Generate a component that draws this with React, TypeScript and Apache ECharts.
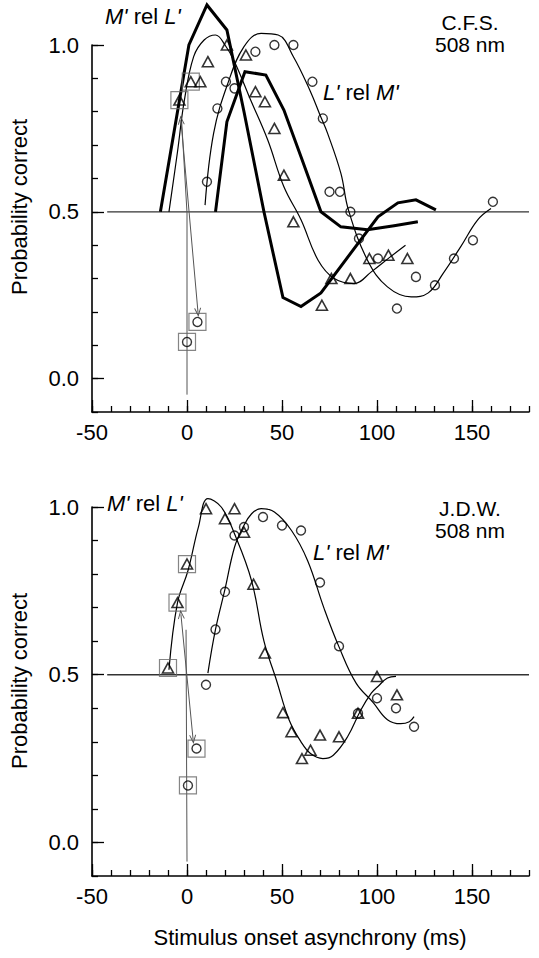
import React, { useEffect, useRef } from 'react';
import * as echarts from 'echarts';

const FONT = '"Liberation Sans", Arial, Helvetica, sans-serif';

// ---------- tick values ----------
const xMajorTicks = [-50, 0, 50, 100, 150];
const yMajorTicks = [0, 0.5, 1.0];

// ---------- top panel (C.F.S.) ----------
const topTriX = [-4, 2, 7, 11, 21, 31, 36, 41, 46, 51, 56, 71, 76, 86, 96, 106, 116];
const topTriY = [0.835, 0.89, 0.89, 0.95, 1.0, 0.97, 0.86, 0.83, 0.75, 0.61, 0.47, 0.22, 0.30, 0.30, 0.36, 0.37, 0.36];
const topCircX = [0, 5.5, 10.5, 16, 20.5, 25, 36, 46, 56, 66, 71.5, 75, 80.5, 86, 90.5, 100.5, 110.5, 120.5, 130.5, 140.5, 150.5, 161];
const topCircY = [0.11, 0.17, 0.59, 0.81, 0.89, 0.87, 0.98, 1.0, 1.0, 0.89, 0.78, 0.56, 0.56, 0.50, 0.42, 0.36, 0.21, 0.305, 0.28, 0.36, 0.415, 0.53];
const topBoxX = [-4, 2, 0, 5.5];
const topBoxY = [0.835, 0.89, 0.11, 0.17];
const topFitMX = [-9.5, -5, -1.5, 3.5, 9, 15, 20, 25, 33.5, 42.5, 51, 60, 69, 77.5, 88, 97, 107, 115];
const topFitMY = [0.5, 0.68, 0.83, 0.965, 1.015, 1.03, 1.0, 0.95, 0.835, 0.715, 0.575, 0.476, 0.355, 0.30, 0.285, 0.32, 0.365, 0.40];
const topFitLX = [9.5, 14, 21.5, 30, 39, 48, 56, 65, 70, 74, 81, 85, 95, 105.5, 118, 127, 135, 144, 153, 160];
const topFitLY = [0.52, 0.735, 0.885, 0.995, 1.035, 1.03, 0.965, 0.86, 0.79, 0.735, 0.615, 0.505, 0.355, 0.275, 0.245, 0.257, 0.317, 0.395, 0.476, 0.51];
const topThickMX = [-14, 1, 10.5, 21, 30, 40.5, 50.5, 60, 70.5, 100.5, 111, 120.5, 131];
const topThickMY = [0.5, 1.0, 1.12, 1.045, 0.80, 0.5, 0.243, 0.216, 0.257, 0.485, 0.527, 0.536, 0.506];
const topThickLX = [15, 21, 30.5, 41.5, 51, 60, 70.5, 81, 95, 109, 121.5];
const topThickLY = [0.5, 0.77, 0.92, 0.91, 0.805, 0.665, 0.5, 0.455, 0.446, 0.458, 0.47];
const topLineAX = [-2.8, 0, 0];
const topLineAY = [0.77, 0.497, -0.048];
const topArrowX = [-3.2, 5.8];
const topArrowY = [0.775, 0.198];

// ---------- bottom panel (J.D.W.) ----------
const botTriX = [-10, -5, 0, 10, 20, 25, 30, 35, 41, 50.5, 55, 60.5, 65, 70, 80, 90, 100, 110.5];
const botTriY = [0.52, 0.715, 0.83, 0.995, 0.965, 0.995, 0.925, 0.77, 0.565, 0.387, 0.33, 0.25, 0.275, 0.32, 0.315, 0.385, 0.495, 0.44];
const botCircX = [0.5, 5, 10, 15, 20, 25, 30, 40, 50, 60, 70, 80, 90, 100, 110, 119.5];
const botCircY = [0.17, 0.28, 0.47, 0.635, 0.747, 0.915, 0.94, 0.97, 0.945, 0.93, 0.775, 0.585, 0.385, 0.43, 0.40, 0.345];
const botBoxX = [-10, -5, 0, 0.5, 5];
const botBoxY = [0.52, 0.715, 0.83, 0.17, 0.28];
const botFitMX = [-9.5, -5, 0.5, 6, 11, 18, 25, 34, 40.5, 47, 53.7, 60, 65, 71.5, 77, 84.5, 91.5, 97, 100.5, 105.5, 110];
const botFitMY = [0.515, 0.715, 0.81, 0.94, 1.025, 1.0, 0.92, 0.78, 0.60, 0.485, 0.366, 0.30, 0.265, 0.25, 0.26, 0.315, 0.395, 0.445, 0.465, 0.49, 0.495];
const botFitLX = [11, 15, 20, 25, 29.5, 34, 39, 46, 55, 63.5, 72, 80, 89, 98, 105.5, 112.5, 117, 119.5];
const botFitLY = [0.505, 0.635, 0.755, 0.88, 0.94, 0.98, 0.995, 0.985, 0.93, 0.84, 0.70, 0.583, 0.475, 0.417, 0.366, 0.354, 0.36, 0.375];
const botLineAX = [-0.5, 0];
const botLineAY = [0.634, -0.057];
const botArrowX = [-3.2, 3.2];
const botArrowY = [0.68, 0.307];

const chanceX = [-42, 180];
const chanceY = [0.5, 0.5];

const zip = (xs: number[], ys: number[]) => xs.map((x, i) => [x, ys[i]]);

const CHEV = 'path://M5,0L10,10L8.6,10L5,3L1.4,10L0,10Z';

type Panel = {
  triX: number[]; triY: number[]; circX: number[]; circY: number[];
  boxX: number[]; boxY: number[];
  fitMX: number[]; fitMY: number[]; fitLX: number[]; fitLY: number[];
  thickMX?: number[]; thickMY?: number[]; thickLX?: number[]; thickLY?: number[];
  lineAX: number[]; lineAY: number[]; arrowX: number[]; arrowY: number[];
};

function panelSeries(gi: number, p: Panel): any[] {
  const base = { xAxisIndex: gi * 2, yAxisIndex: gi * 2 };
  const s: any[] = [
    {
      ...base, type: 'line', data: zip(chanceX, chanceY), symbol: 'none', silent: true,
      lineStyle: { color: '#333', width: 1.3 }, z: 1,
    },
    {
      ...base, type: 'line', data: zip(p.lineAX, p.lineAY), symbol: 'none', silent: true, clip: false,
      lineStyle: { color: '#555', width: 1 }, z: 2,
      markLine: {
        silent: true,
        symbol: [CHEV, CHEV],
        symbolSize: [7, 9],
        label: { show: false },
        lineStyle: { color: '#555', width: 1, type: 'solid' },
        data: [[{ coord: [p.arrowX[0], p.arrowY[0]] }, { coord: [p.arrowX[1], p.arrowY[1]] }]],
      },
    },
  ];
  if (p.thickMX && p.thickMY) {
    s.push({
      ...base, type: 'line', data: zip(p.thickMX, p.thickMY), symbol: 'none', clip: false,
      lineStyle: { color: '#000', width: 3, join: 'miter' }, z: 3,
    });
  }
  if (p.thickLX && p.thickLY) {
    s.push({
      ...base, type: 'line', data: zip(p.thickLX, p.thickLY), symbol: 'none', clip: false,
      lineStyle: { color: '#000', width: 3, join: 'miter' }, z: 3,
    });
  }
  s.push(
    {
      ...base, type: 'line', data: zip(p.fitMX, p.fitMY), symbol: 'none', smooth: 0.4, clip: false,
      lineStyle: { color: '#000', width: 1.2 }, z: 3,
    },
    {
      ...base, type: 'line', data: zip(p.fitLX, p.fitLY), symbol: 'none', smooth: 0.4, clip: false,
      lineStyle: { color: '#000', width: 1.2 }, z: 3,
    },
    {
      ...base, type: 'scatter', data: zip(p.boxX, p.boxY), symbol: 'rect', symbolSize: 17, clip: false,
      itemStyle: { color: 'transparent', borderColor: '#666', borderWidth: 1.2 }, z: 4,
    },
    {
      ...base, type: 'scatter', data: zip(p.triX, p.triY), symbol: 'triangle', symbolSize: [11, 10], clip: false,
      itemStyle: { color: 'transparent', borderColor: '#000', borderWidth: 1.6 }, z: 5,
    },
    {
      ...base, type: 'scatter', data: zip(p.circX, p.circY), symbol: 'circle', symbolSize: 9, clip: false,
      itemStyle: { color: 'transparent', borderColor: '#000', borderWidth: 1.4 }, z: 5,
    },
  );
  return s;
}

function axesFor(gi: number) {
  const xMinor = {
    gridIndex: gi, type: 'value', min: -50, max: 180, interval: 10, position: 'bottom',
    axisLine: { show: true, onZero: false, lineStyle: { color: '#000', width: 1.6 } },
    axisTick: { show: true, inside: true, length: 6, lineStyle: { color: '#000', width: 1.3 } },
    axisLabel: { show: false }, splitLine: { show: false },
  };
  const xMajor = {
    gridIndex: gi, type: 'value', min: -50, max: 180, interval: 50, position: 'bottom',
    axisLine: { show: false, onZero: false },
    axisTick: { show: true, inside: true, length: 12, customValues: xMajorTicks, lineStyle: { color: '#000', width: 1.3 } },
    axisLabel: { show: true, customValues: xMajorTicks, fontSize: 22, color: '#000', margin: 9, fontFamily: FONT },
    splitLine: { show: false },
  };
  const yMinor = {
    gridIndex: gi, type: 'value', min: -0.1, max: 1.0, interval: 0.1, position: 'left',
    axisLine: { show: true, onZero: false, lineStyle: { color: '#000', width: 1.6 } },
    axisTick: { show: true, inside: true, length: 6, lineStyle: { color: '#000', width: 1.3 } },
    axisLabel: { show: false }, splitLine: { show: false },
  };
  const yMajor = {
    gridIndex: gi, type: 'value', min: -0.1, max: 1.0, position: 'left',
    axisLine: { show: false, onZero: false },
    axisTick: { show: true, inside: true, length: 12, customValues: yMajorTicks, lineStyle: { color: '#000', width: 1.3 } },
    axisLabel: {
      show: true, customValues: yMajorTicks, fontSize: 22, color: '#000', margin: 13, fontFamily: FONT,
      formatter: (v: number) => v.toFixed(1),
    },
    splitLine: { show: false },
  };
  return { x: [xMinor, xMajor], y: [yMinor, yMajor] };
}

function relLabel(x: number, y: number, a: string, b: string) {
  const tok = { fontSize: 22, fontFamily: FONT, fill: '#000' };
  return {
    type: 'text', x, y,
    style: {
      text: `{i|${a}'}{n| rel }{i|${b}'}`,
      fontSize: 22, fontFamily: FONT, fill: '#000',
      align: 'left', verticalAlign: 'middle',
      rich: {
        i: { ...tok, fontStyle: 'italic' },
        n: { ...tok, fontStyle: 'normal' },
      },
    },
  };
}

function plainText(x: number, y: number, text: string, rotation = 0, size = 22) {
  return {
    type: 'text', x, y, rotation,
    style: { text, fontSize: size, fontFamily: FONT, fill: '#000', align: 'center', verticalAlign: 'middle' },
  };
}

export default function App() {
  const ref = useRef<HTMLDivElement>(null);
  useEffect(() => {
    if (!ref.current) return;
    const chart = echarts.init(ref.current, undefined, { renderer: 'svg' });
    const a0 = axesFor(0);
    const a1 = axesFor(1);
    const top: Panel = {
      triX: topTriX, triY: topTriY, circX: topCircX, circY: topCircY, boxX: topBoxX, boxY: topBoxY,
      fitMX: topFitMX, fitMY: topFitMY, fitLX: topFitLX, fitLY: topFitLY,
      thickMX: topThickMX, thickMY: topThickMY, thickLX: topThickLX, thickLY: topThickLY,
      lineAX: topLineAX, lineAY: topLineAY, arrowX: topArrowX, arrowY: topArrowY,
    };
    const bot: Panel = {
      triX: botTriX, triY: botTriY, circX: botCircX, circY: botCircY, boxX: botBoxX, boxY: botBoxY,
      fitMX: botFitMX, fitMY: botFitMY, fitLX: botFitLX, fitLY: botFitLY,
      lineAX: botLineAX, lineAY: botLineAY, arrowX: botArrowX, arrowY: botArrowY,
    };
    chart.setOption({
      animation: false,
      backgroundColor: '#fff',
      textStyle: { fontFamily: FONT },
      grid: [
        { left: 92, top: 45, width: 437, height: 367 },
        { left: 92, top: 507, width: 437, height: 369 },
      ],
      xAxis: [...a0.x, ...a1.x],
      yAxis: [...a0.y, ...a1.y],
      series: [...panelSeries(0, top), ...panelSeries(1, bot)],
      graphic: [
        plainText(19, 207, 'Probability correct', Math.PI / 2),
        plainText(19, 681, 'Probability correct', Math.PI / 2),
        plainText(310, 937, 'Stimulus onset asynchrony (ms)'),
        plainText(470, 22, 'C.F.S.', 0, 21),
        plainText(470, 44, '508 nm', 0, 21),
        plainText(470, 508, 'J.D.W.', 0, 21),
        plainText(470, 530, '508 nm', 0, 21),
        relLabel(105, 16, 'M', 'L'),
        relLabel(323, 92, 'L', 'M'),
        relLabel(107, 503, 'M', 'L'),
        relLabel(313, 552, 'L', 'M'),
      ],
    });
    return () => chart.dispose();
  }, []);
  return (
    <div
      ref={ref}
      style={{ position: 'fixed', left: 0, top: 0, width: 539, height: 958, background: '#fff' }}
    />
  );
}
